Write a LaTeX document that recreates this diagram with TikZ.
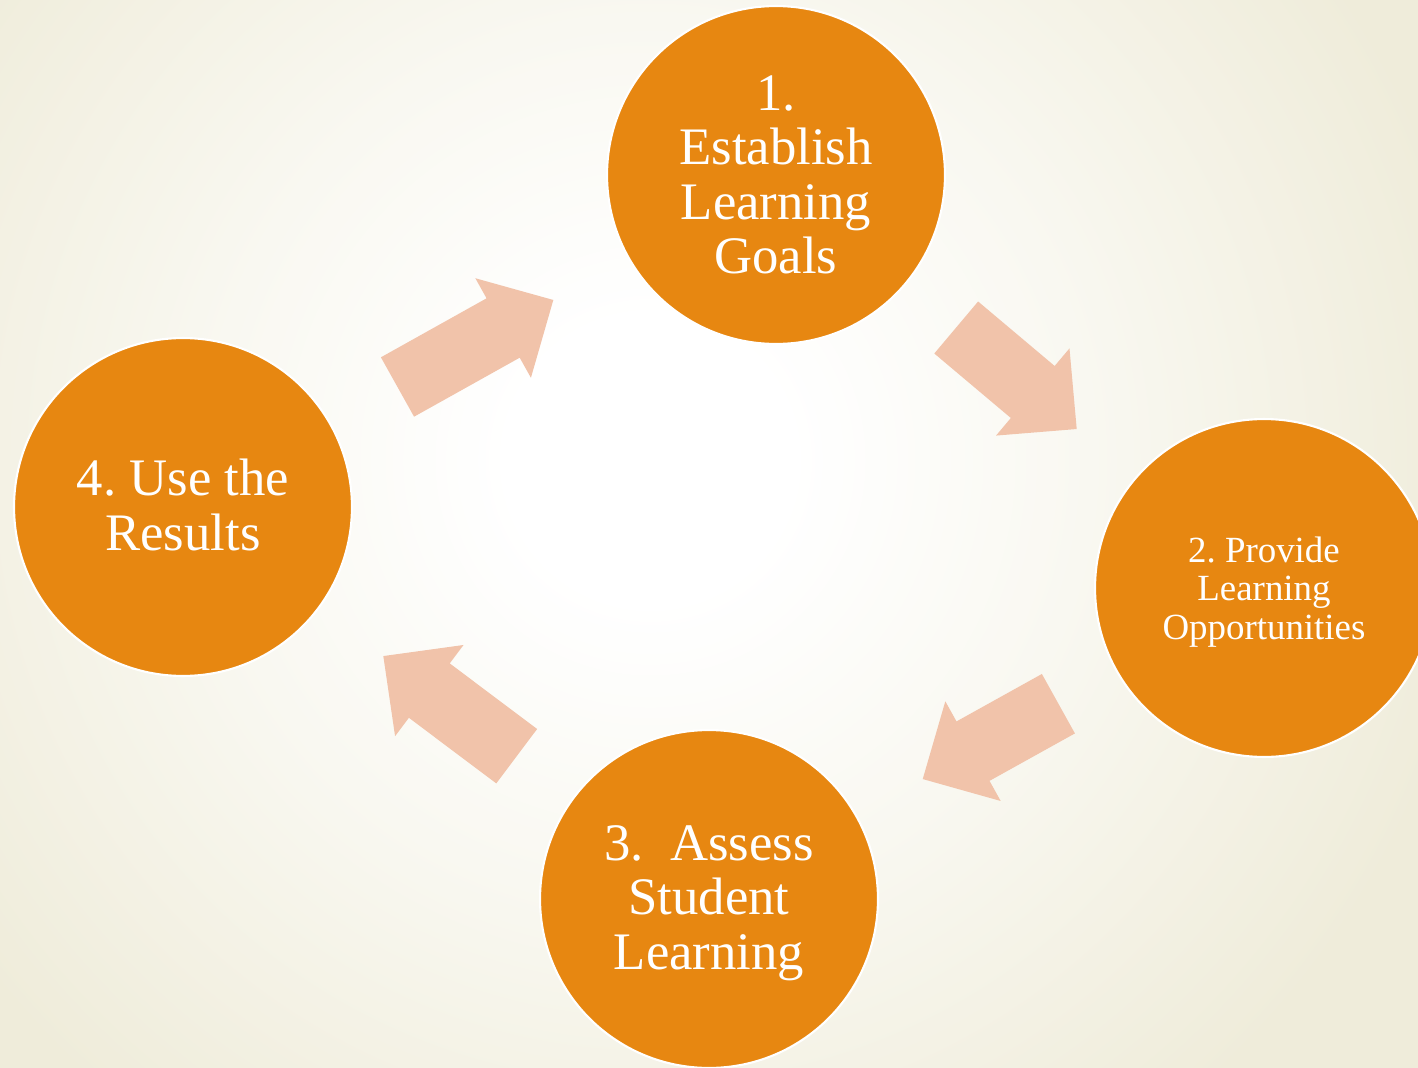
\documentclass[tikz,border=0pt]{standalone}
\usepackage{fontspec}
\setmainfont{Liberation Serif}
\definecolor{bgcorner}{HTML}{EFECDA}
\definecolor{bgmid}{HTML}{F9F8F1}
\definecolor{stageorange}{HTML}{E78711}
\definecolor{arrowfill}{HTML}{F1C3AA}
% path box maps to the middle 50bp square: radius 1000 px = 25bp
\pgfdeclareradialshading{bgshade}{\pgfpoint{0bp}{0bp}}{color(0bp)=(white); color(3.5bp)=(white); color(11bp)=(bgmid); color(21bp)=(bgcorner); color(50bp)=(bgcorner)}
% name, x, y, angle, length
\newcommand\blockarrowat[5]{%
  \begin{scope}[shift={(#2,#3)}, rotate=#4]
    \coordinate (#1-tail) at (0,0);
    \coordinate (#1-tip) at (#5,0);
    \fill[arrowfill] (#1-tail) ++(0,-34) -- ({#5-57.5},-34) -- ({#5-57.5},-57) -- (#1-tip)
      -- ({#5-57.5},57) -- ({#5-57.5},34) -- (0,34) -- cycle;
  \end{scope}}
\tikzset{
  stage/.style={circle, fill=stageorange, draw=white, line width=1.2pt, minimum size=6.76cm, inner sep=0pt},
  bigtext/.style={text=white, align=center, inner sep=0pt, font=\frenchspacing\fontsize{30}{31}\selectfont},
  smalltext/.style={text=white, align=center, inner sep=0pt, font=\frenchspacing\fontsize{21}{21.7}\selectfont}
}
\begin{document}
\begin{tikzpicture}[x=0.02cm, y=-0.02cm]
  \useasboundingbox (0,0) rectangle (1418,1068);
  \fill[bgcorner] (0,0) rectangle (1418,1068);
  \begin{scope}
    \clip (0,0) rectangle (1418,1068);
    \shade[shading=bgshade] (650,460) circle (1000);
  \end{scope}

  \node[stage] (c1) at (776,175) {};
  \node[stage] (c2) at (1264,588) {};
  \node[stage] (c3) at (709,899) {};
  \node[stage] (c4) at (183,507) {};

  \node[bigtext] (t1) at (776,175) {1.\\Establish\\Learning\\Goals};
  \node[smalltext] (t2) at (1264,592) {2. Provide\\Learning\\Opportunities};
  \node[bigtext] (t3) at (709,903) {3.\ \ Assess\\Student\\Learning};
  \node[bigtext] (t4) at (183,505) {4. Use the\\Results};

  \blockarrowat{a41}{397.5}{387}{29.18}{178.5}
  \blockarrowat{a12}{956.2}{327.5}{-40.11}{157.6}
  \blockarrowat{a23}{1058.4}{703.7}{209.05}{155.2}
  \blockarrowat{a34}{516.7}{756.2}{143.1}{166.8}
\end{tikzpicture}
\end{document}
